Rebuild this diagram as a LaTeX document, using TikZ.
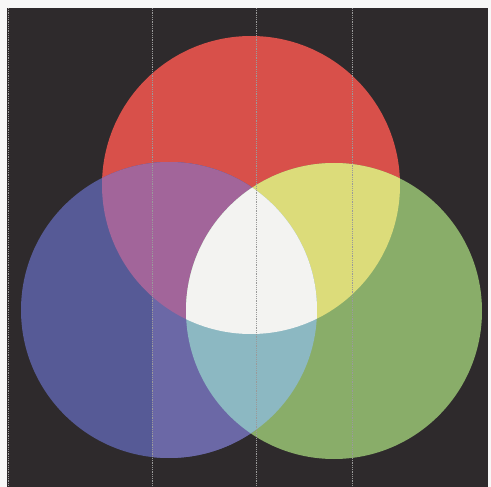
\documentclass[tikz,border=0pt]{standalone}
\definecolor{colbg}{HTML}{2E2A2C}
\definecolor{colred}{HTML}{D8504A}
\definecolor{colblue}{HTML}{565A96}
\definecolor{colbluelt}{HTML}{6B68A6}
\definecolor{colgreen}{HTML}{89AD69}
\definecolor{colmag}{HTML}{A2659A}
\definecolor{colyel}{HTML}{DCDC7A}
\definecolor{colcyan}{HTML}{8CB8C2}
\definecolor{colwhite}{HTML}{F3F3F1}
\definecolor{colfold}{HTML}{9A9A9A}
\begin{document}
\begin{tikzpicture}[x=1pt,y=-1pt,
  foldline/.style={colfold,densely dotted,line width=0.8pt}]
\useasboundingbox (0,0) rectangle (491,487);
\fill[white!94!gray] (0,0) rectangle (491,487);
\fill[colbg] (7,8) rectangle (488,487);
\def\circR{(251,185) circle (149)}
\def\circB{(169,310) circle (148)}
\def\circG{(334,311) circle (148)}
\fill[colred] \circR;
\fill[colblue] \circB;
\fill[colgreen] \circG;
% lighter strip of blue
\begin{scope}
  \clip \circB;
  \fill[colbluelt] (152,0) rectangle (256,487);
\end{scope}
\begin{scope}
  \clip \circR;
  \fill[colmag] \circB;
  \fill[colyel] \circG;
\end{scope}
\begin{scope}
  \clip \circB;
  \fill[colcyan] \circG;
\end{scope}
\begin{scope}
  \clip \circR;
  \clip \circB;
  \fill[colwhite] \circG;
\end{scope}
\foreach \x in {8,152,256,352}
  \draw[foldline] (\x,8) -- (\x,487);
\end{tikzpicture}
\end{document}
